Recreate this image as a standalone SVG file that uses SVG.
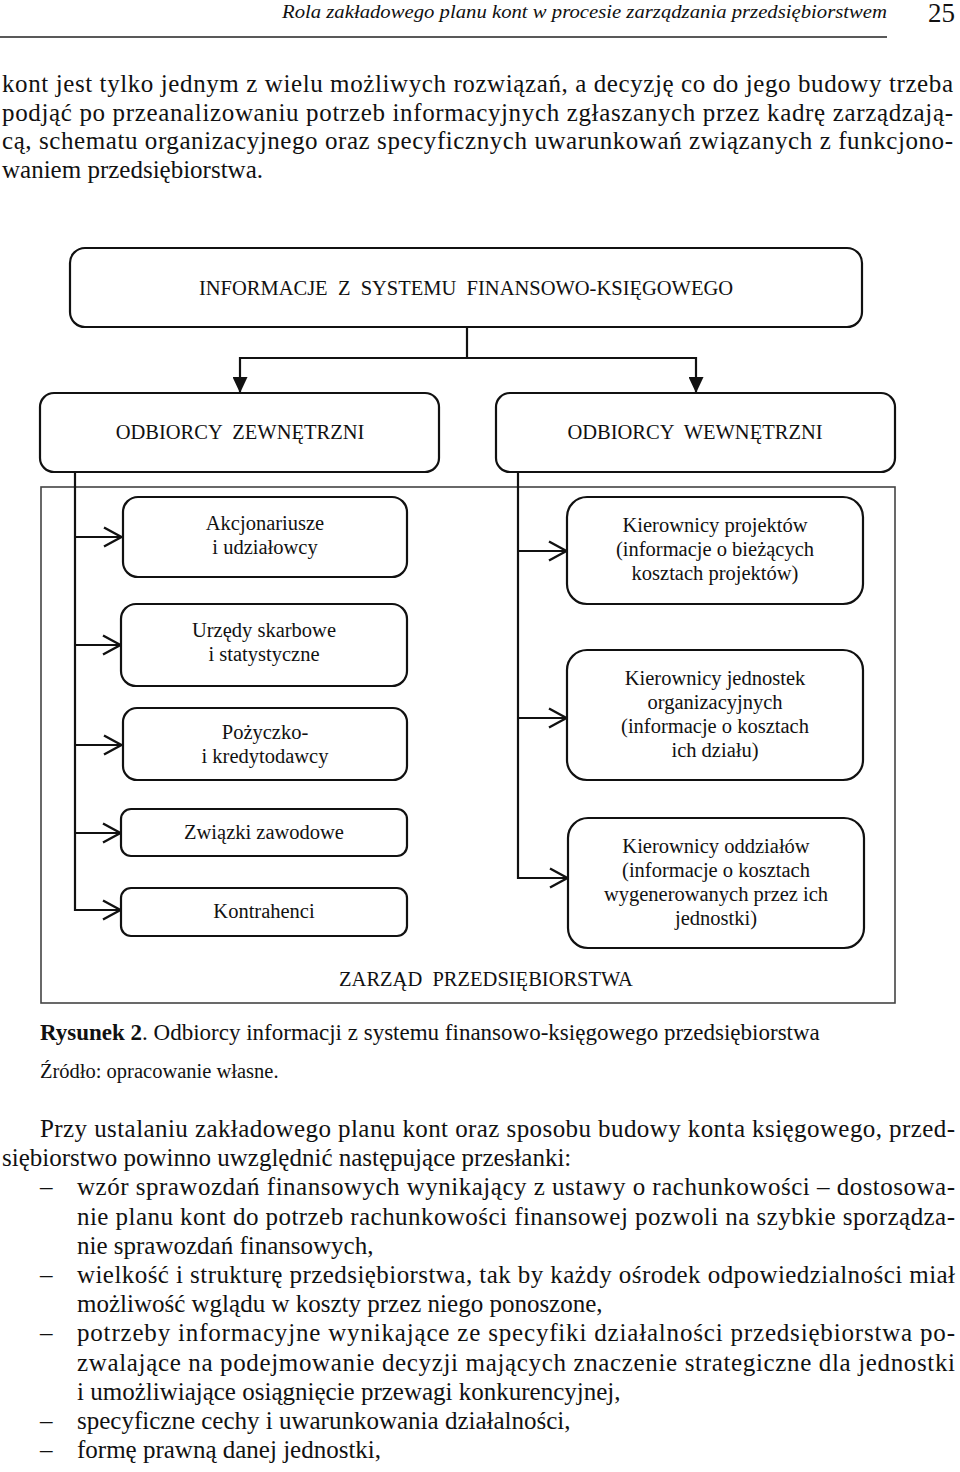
<svg xmlns="http://www.w3.org/2000/svg" width="960" height="1472" viewBox="0 0 960 1472">
<style>
text{font-family:"Liberation Serif","Times New Roman",serif;fill:#111}
.body{font-size:25px}
.hdr{font-size:18.5px;font-style:italic}
.pg{font-size:27px}
.bx{font-size:20.5px;text-anchor:middle}
.cap{font-size:23px}
.src{font-size:20.5px}
.box{fill:#fff;stroke:#111;stroke-width:2.2}
.frame{fill:none;stroke:#444;stroke-width:1.6}
.ln{fill:none;stroke:#111;stroke-width:2.2}
</style>
<defs>
<marker id="tri" viewBox="0 0 16 15" refX="16" refY="7.5" markerWidth="16" markerHeight="15" markerUnits="userSpaceOnUse" orient="auto">
<path d="M0,0 L16,7.5 L0,15 z" fill="#111"/>
</marker>
<marker id="chev" viewBox="0 0 20 22" refX="19" refY="11" markerWidth="20" markerHeight="22" markerUnits="userSpaceOnUse" orient="auto">
<path d="M1,1.5 L18.5,11 L1,20.5" fill="none" stroke="#111" stroke-width="2.4"/>
</marker>
</defs>

<g id="page-header">
<text class="hdr" x="282" y="18" textLength="605" lengthAdjust="spacingAndGlyphs">Rola zakładowego planu kont w procesie zarządzania przedsiębiorstwem</text>
<text class="pg" x="955" y="22" text-anchor="end">25</text>
<line x1="0" y1="37" x2="887" y2="37" stroke="#222" stroke-width="1.5"/>
</g>

<g id="intro-text">
<text class="body" x="2" y="92" textLength="951" lengthAdjust="spacing">kont jest tylko jednym z wielu możliwych rozwiązań, a decyzję co do jego budowy trzeba</text>
<text class="body" x="2" y="120.5" textLength="951" lengthAdjust="spacing">podjąć po przeanalizowaniu potrzeb informacyjnych zgłaszanych przez  kadrę zarządzają-</text>
<text class="body" x="2" y="149" textLength="951" lengthAdjust="spacing">cą, schematu organizacyjnego oraz specyficznych uwarunkowań związanych z funkcjono-</text>
<text class="body" x="2" y="177.5">waniem przedsiębiorstwa.</text>
</g>

<g id="frame-zarzad">
<rect class="frame" x="41" y="487" width="854" height="516"/>
<text class="bx" x="486" y="986" xml:space="preserve">ZARZĄD  PRZEDSIĘBIORSTWA</text>
</g>

<g id="connectors">
<path class="ln" d="M467,328 V358 M240,358 H696"/>
<line class="ln" x1="240" y1="357" x2="240" y2="393" marker-end="url(#tri)"/>
<line class="ln" x1="696" y1="357" x2="696" y2="393" marker-end="url(#tri)"/>
<line class="ln" x1="75" y1="472" x2="75" y2="911"/>
<line class="ln" x1="74" y1="537" x2="122" y2="537" marker-end="url(#chev)"/>
<line class="ln" x1="74" y1="645" x2="121" y2="645" marker-end="url(#chev)"/>
<line class="ln" x1="74" y1="745" x2="122" y2="745" marker-end="url(#chev)"/>
<line class="ln" x1="74" y1="833" x2="121" y2="833" marker-end="url(#chev)"/>
<line class="ln" x1="74" y1="910" x2="121" y2="910" marker-end="url(#chev)"/>
<line class="ln" x1="518" y1="472" x2="518" y2="879"/>
<line class="ln" x1="517" y1="551" x2="567" y2="551" marker-end="url(#chev)"/>
<line class="ln" x1="517" y1="718" x2="567" y2="718" marker-end="url(#chev)"/>
<line class="ln" x1="517" y1="878" x2="568" y2="878" marker-end="url(#chev)"/>
</g>

<g id="node-informacje">
<rect class="box" x="70" y="248" width="792" height="79" rx="15"/>
<text class="bx" x="466" y="295" xml:space="preserve">INFORMACJE  Z  SYSTEMU  FINANSOWO-KSIĘGOWEGO</text>
</g>
<g id="node-zewnetrzni">
<rect class="box" x="40" y="393" width="399" height="79" rx="14"/>
<text class="bx" x="240" y="439" xml:space="preserve">ODBIORCY  ZEWNĘTRZNI</text>
</g>
<g id="node-wewnetrzni">
<rect class="box" x="496" y="393" width="399" height="79" rx="14"/>
<text class="bx" x="695" y="439" xml:space="preserve">ODBIORCY  WEWNĘTRZNI</text>
</g>

<g id="node-akcjonariusze">
<rect class="box" x="123" y="497" width="284" height="80" rx="15"/>
<text class="bx" x="265" y="530">Akcjonariusze</text>
<text class="bx" x="265" y="554">i udziałowcy</text>
</g>
<g id="node-urzedy">
<rect class="box" x="121" y="604" width="286" height="82" rx="15"/>
<text class="bx" x="264" y="637">Urzędy skarbowe</text>
<text class="bx" x="264" y="661">i statystyczne</text>
</g>
<g id="node-pozyczkodawcy">
<rect class="box" x="123" y="708" width="284" height="72" rx="14"/>
<text class="bx" x="265" y="739">Pożyczko-</text>
<text class="bx" x="265" y="763">i kredytodawcy</text>
</g>
<g id="node-zwiazki">
<rect class="box" x="121" y="809" width="286" height="47" rx="10"/>
<text class="bx" x="264" y="839">Związki zawodowe</text>
</g>
<g id="node-kontrahenci">
<rect class="box" x="121" y="888" width="286" height="48" rx="10"/>
<text class="bx" x="264" y="918">Kontrahenci</text>
</g>

<g id="node-kier-projektow">
<rect class="box" x="567" y="497" width="296" height="107" rx="20"/>
<text class="bx" x="715" y="532">Kierownicy projektów</text>
<text class="bx" x="715" y="556">(informacje o bieżących</text>
<text class="bx" x="715" y="580">kosztach projektów)</text>
</g>
<g id="node-kier-jednostek">
<rect class="box" x="567" y="650" width="296" height="130" rx="20"/>
<text class="bx" x="715" y="685">Kierownicy jednostek</text>
<text class="bx" x="715" y="709">organizacyjnych</text>
<text class="bx" x="715" y="733">(informacje o kosztach</text>
<text class="bx" x="715" y="757">ich działu)</text>
</g>
<g id="node-kier-oddzialow">
<rect class="box" x="568" y="818" width="296" height="130" rx="20"/>
<text class="bx" x="716" y="853">Kierownicy oddziałów</text>
<text class="bx" x="716" y="877">(informacje o kosztach</text>
<text class="bx" x="716" y="901">wygenerowanych przez ich</text>
<text class="bx" x="716" y="925">jednostki)</text>
</g>

<g id="caption">
<text class="cap" x="40" y="1040"><tspan font-weight="bold">Rysunek 2</tspan>. Odbiorcy informacji z systemu finansowo-księgowego przedsiębiorstwa</text>
<text class="src" x="40" y="1078">Źródło: opracowanie własne.</text>
</g>

<g id="following-text">
<text class="body" x="40" y="1137" textLength="915" lengthAdjust="spacing">Przy ustalaniu zakładowego planu kont oraz sposobu budowy konta księgowego, przed-</text>
<text class="body" x="2" y="1166.2">siębiorstwo powinno uwzględnić następujące przesłanki:</text>
<text class="body" x="40" y="1195.4">–</text>
<text class="body" x="77" y="1195.4" textLength="878" lengthAdjust="spacing">wzór sprawozdań finansowych wynikający z ustawy o rachunkowości – dostosowa-</text>
<text class="body" x="77" y="1224.6" textLength="878" lengthAdjust="spacing">nie planu kont do potrzeb rachunkowości finansowej pozwoli na szybkie sporządza-</text>
<text class="body" x="77" y="1253.8">nie sprawozdań finansowych,</text>
<text class="body" x="40" y="1283">–</text>
<text class="body" x="77" y="1283" textLength="878" lengthAdjust="spacing">wielkość i strukturę przedsiębiorstwa, tak by każdy ośrodek odpowiedzialności miał</text>
<text class="body" x="77" y="1312.2">możliwość wglądu w koszty przez niego ponoszone,</text>
<text class="body" x="40" y="1341.4">–</text>
<text class="body" x="77" y="1341.4" textLength="878" lengthAdjust="spacing">potrzeby informacyjne wynikające ze specyfiki działalności przedsiębiorstwa po-</text>
<text class="body" x="77" y="1370.6" textLength="878" lengthAdjust="spacing">zwalające na podejmowanie decyzji mających znaczenie strategiczne dla jednostki</text>
<text class="body" x="77" y="1399.8">i umożliwiające osiągnięcie przewagi konkurencyjnej,</text>
<text class="body" x="40" y="1429">–</text>
<text class="body" x="77" y="1429">specyficzne cechy i uwarunkowania działalności,</text>
<text class="body" x="40" y="1458.2">–</text>
<text class="body" x="77" y="1458.2">formę prawną danej jednostki,</text>
</g>
</svg>
